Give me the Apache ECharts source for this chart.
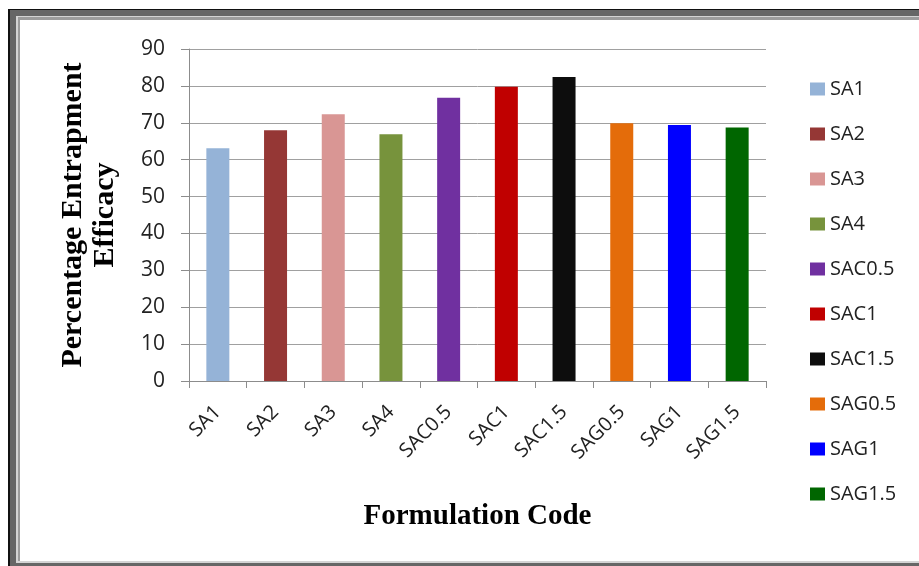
<!DOCTYPE html>
<html>
<head>
<meta charset="utf-8">
<script src="https://cdn.jsdelivr.net/npm/echarts@6/dist/echarts.min.js"></script>
<style>
  html, body { margin: 0; padding: 0; background: #fff; }
  #chart { width: 919px; height: 566px; }
</style>
</head>
<body>
<div id="chart"></div>
<script>
// Formulation codes (x categories, also legend entries)
const categories = ['SA1', 'SA2', 'SA3', 'SA4', 'SAC0.5', 'SAC1', 'SAC1.5', 'SAG0.5', 'SAG1', 'SAG1.5'];
// Percentage entrapment efficacy for each formulation
const efficacy = [63.1, 68.0, 72.3, 66.9, 76.8, 79.8, 82.4, 69.9, 69.4, 68.7];
// One colour per formulation
const barColors = ['#95B3D7', '#953735', '#D99694', '#77933C', '#7030A0', '#C00000', '#0D0D0D', '#E46C0A', '#0000FF', '#006600'];
// Y axis range
const yMin = 0, yMax = 90, yStep = 10;

const sansFont = '"Open Sans", "Liberation Sans", sans-serif';
const serifFont = '"Liberation Serif", "DejaVu Serif", serif';

// One series per formulation, each holding a value only in its own category,
// stacked so every bar sits centred on its tick slot.
const series = categories.map((name, i) => ({
  name: name,
  type: 'bar',
  stack: 'one',
  barWidth: 23,
  itemStyle: { color: barColors[i] },
  data: categories.map((_, j) => (j === i ? efficacy[i] : '-'))
}));

const chart = echarts.init(document.getElementById('chart'), null, { renderer: 'canvas' });

chart.setOption({
  animation: false,
  backgroundColor: '#ffffff',
  graphic: [
    // layered picture frame
    { type: 'rect', z: -100, silent: true, shape: { x: 8, y: 9, width: 911, height: 557 }, style: { fill: '#111111' } },
    { type: 'rect', z: -99, silent: true, shape: { x: 10, y: 10, width: 909, height: 556 }, style: { fill: '#666666' } },
    { type: 'rect', z: -98, silent: true, shape: { x: 16, y: 16, width: 903, height: 547 }, style: { fill: '#d4d4d4' } },
    { type: 'rect', z: -97, silent: true, shape: { x: 18, y: 17, width: 901, height: 544 }, style: { fill: '#9c9c9c' } },
    { type: 'rect', z: -96, silent: true, shape: { x: 20, y: 20, width: 899, height: 541 }, style: { fill: '#ffffff' } }
  ],
  grid: { left: 189, right: 153, top: 49, bottom: 185, containLabel: false },
  legend: {
    orient: 'vertical',
    left: 805,
    top: 73,
    itemWidth: 15,
    itemHeight: 13,
    itemGap: 23,
    icon: 'rect',
    textStyle: { fontFamily: sansFont, fontSize: 20, color: '#222', lineHeight: 22 },
    data: categories
  },
  xAxis: {
    type: 'category',
    data: categories,
    name: 'Formulation Code',
    nameLocation: 'middle',
    nameGap: 121,
    nameTextStyle: { fontFamily: serifFont, fontWeight: 'bold', fontSize: 29, color: '#000' },
    axisLine: { lineStyle: { color: '#8c8c8c', width: 1 } },
    axisTick: { show: true, length: 7, lineStyle: { color: '#8c8c8c' } },
    axisLabel: { rotate: 45, margin: 28, fontFamily: sansFont, fontSize: 20, color: '#222' },
    splitLine: { show: false }
  },
  yAxis: {
    type: 'value',
    min: yMin,
    max: yMax,
    interval: yStep,
    name: 'Percentage Entrapment\nEfficacy',
    nameLocation: 'middle',
    nameRotate: 90,
    nameGap: 68,
    nameTextStyle: { fontFamily: serifFont, fontWeight: 'bold', fontSize: 30, color: '#000', lineHeight: 32, align: 'center' },
    axisLine: { show: true, lineStyle: { color: '#8c8c8c', width: 1 } },
    axisTick: { show: true, length: 8, lineStyle: { color: '#8c8c8c' } },
    axisLabel: { margin: 24, fontFamily: sansFont, fontSize: 21, color: '#222' },
    splitLine: { show: true, lineStyle: { color: '#a0a0a0', width: 1 } }
  },
  series: series
});
</script>
</body>
</html>
